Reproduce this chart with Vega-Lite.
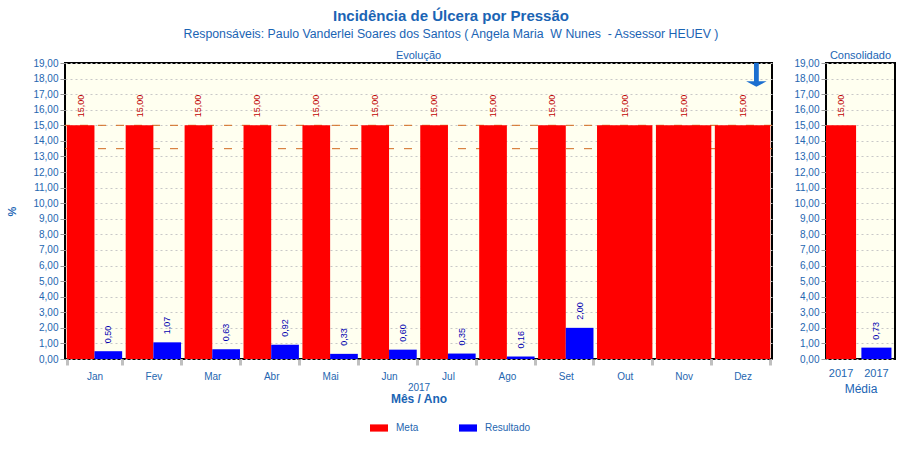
{
  "$schema": "https://vega.github.io/schema/vega-lite/v6.json",
  "padding": {"left": 5, "top": 8, "right": 5, "bottom": 5},
  "background": "white",
  "title": {
    "text": "Incidência de Úlcera por Pressão",
    "subtitle": "Responsáveis: Paulo Vanderlei Soares dos Santos ( Angela Maria\u00a0 W Nunes\u00a0 - Assessor HEUEV )",
    "anchor": "middle",
    "font": "Liberation Sans",
    "fontSize": 15,
    "fontWeight": "bold",
    "color": "#1a64b4",
    "subtitleFont": "Liberation Sans",
    "subtitleFontSize": 12.3,
    "subtitleColor": "#1a64b4",
    "subtitlePadding": 4,
    "offset": 9
  },
  "datasets": {
    "mensal": [
      {"mes": "Jan", "ano": "2017", "serie": "Meta", "valor": 15},
      {"mes": "Jan", "ano": "2017", "serie": "Resultado", "valor": 0.50},
      {"mes": "Fev", "ano": "2017", "serie": "Meta", "valor": 15},
      {"mes": "Fev", "ano": "2017", "serie": "Resultado", "valor": 1.07},
      {"mes": "Mar", "ano": "2017", "serie": "Meta", "valor": 15},
      {"mes": "Mar", "ano": "2017", "serie": "Resultado", "valor": 0.63},
      {"mes": "Abr", "ano": "2017", "serie": "Meta", "valor": 15},
      {"mes": "Abr", "ano": "2017", "serie": "Resultado", "valor": 0.92},
      {"mes": "Mai", "ano": "2017", "serie": "Meta", "valor": 15},
      {"mes": "Mai", "ano": "2017", "serie": "Resultado", "valor": 0.33},
      {"mes": "Jun", "ano": "2017", "serie": "Meta", "valor": 15},
      {"mes": "Jun", "ano": "2017", "serie": "Resultado", "valor": 0.60},
      {"mes": "Jul", "ano": "2017", "serie": "Meta", "valor": 15},
      {"mes": "Jul", "ano": "2017", "serie": "Resultado", "valor": 0.35},
      {"mes": "Ago", "ano": "2017", "serie": "Meta", "valor": 15},
      {"mes": "Ago", "ano": "2017", "serie": "Resultado", "valor": 0.16},
      {"mes": "Set", "ano": "2017", "serie": "Meta", "valor": 15},
      {"mes": "Set", "ano": "2017", "serie": "Resultado", "valor": 2.00},
      {"mes": "Out", "ano": "2017", "serie": "Meta", "valor": 15},
      {"mes": "Nov", "ano": "2017", "serie": "Meta", "valor": 15},
      {"mes": "Dez", "ano": "2017", "serie": "Meta", "valor": 15}
    ],
    "consolidado": [
      {"ano": "2017", "serie": "Meta", "valor": 15},
      {"ano": "2017", "serie": "Resultado", "valor": 0.73}
    ],
    "limites": [
      {"limite": 15},
      {"limite": 13.5}
    ]
  },
  "config": {
    "locale": {"number": {"decimal": ",", "thousands": ".", "grouping": [3], "currency": ["R$ ", ""]}},
    "font": "Liberation Sans",
    "view": {"fill": "#fffff0", "stroke": "black", "strokeWidth": 2},
    "axis": {
      "labelColor": "#2566b0",
      "titleColor": "#1a64b4",
      "labelFont": "Liberation Sans",
      "titleFont": "Liberation Sans",
      "labelFontSize": 10,
      "domain": false
    },
    "axisY": {
      "gridColor": "#c8c8c8",
      "gridDash": [2, 3],
      "tickColor": "#999999",
      "tickSize": 5,
      "labelPadding": 2,
      "labelOverlap": false,
      "tickCount": 25
    },
    "axisX": {
      "labelAngle": 0
    },
    "legend": {
      "orient": "bottom",
      "direction": "horizontal",
      "title": null,
      "symbolType": "M-1,-0.4H1V0.4H-1Z",
      "symbolSize": 324,
      "symbolStrokeWidth": 0,
      "labelFontSize": 10,
      "labelColor": "#2566b0",
      "labelFont": "Liberation Sans",
      "columnPadding": 40,
      "labelOffset": 8,
      "offset": 14,
      "layout": {"bottom": {"anchor": "middle"}}
    }
  },
  "spacing": 18,
  "hconcat": [
    {
      "width": 707,
      "height": 296,
      "title": {"text": "Evolução", "fontSize": 11, "fontWeight": "normal", "color": "#1a64b4", "offset": -3},
      "data": {"name": "mensal"},
      "layer": [
        {
          "layer": [
            {
              "data": {"name": "limites"},
              "mark": {"type": "rule", "color": "#d2691e", "strokeDash": [8, 10], "strokeWidth": 1},
              "encoding": {
                "y": {"field": "limite", "type": "quantitative", "scale": {"domain": [0, 19], "nice": false},
                  "axis": {"title": "%", "titleFontSize": 11, "titleFontWeight": "bold", "titlePadding": 15, "values": [0,1,2,3,4,5,6,7,8,9,10,11,12,13,14,15,16,17,18,19], "tickCount": 25, "labelOverlap": false, "format": ".2f", "grid": true}}
              }
            },
            {
              "transform": [{"filter": "indexof(['Out','Nov','Dez'], datum.mes) >= 0"}],
              "mark": {"type": "bar"},
              "encoding": {
                "x": {"field": "mes", "type": "nominal", "scale": {"domain": ["Jan","Fev","Mar","Abr","Mai","Jun","Jul","Ago","Set","Out","Nov","Dez"], "paddingInner": 0.06, "paddingOuter": 0.03},
                  "axis": {"title": null, "tickBand": "extent", "tickColor": "#c0c0c0", "tickWidth": 3, "tickSize": 6, "labelPadding": 6}},
                "y": {"field": "valor", "type": "quantitative", "scale": {"domain": [0, 19], "nice": false},
                  "axis": {"title": "%", "titleFontSize": 11, "titleFontWeight": "bold", "titlePadding": 15, "values": [0,1,2,3,4,5,6,7,8,9,10,11,12,13,14,15,16,17,18,19], "tickCount": 25, "labelOverlap": false, "format": ".2f", "grid": true}},
                "color": {"field": "serie", "type": "nominal", "scale": {"domain": ["Meta", "Resultado"], "range": ["#ff0000", "#0000ff"]}}
              }
            },
            {
              "transform": [{"filter": "indexof(['Out','Nov','Dez'], datum.mes) >= 0"}],
              "mark": {"type": "text", "angle": 270, "align": "left", "baseline": "middle", "dx": 8, "fontSize": 9, "color": "#c00000"},
              "encoding": {
                "x": {"field": "mes", "type": "nominal", "scale": {"domain": ["Jan","Fev","Mar","Abr","Mai","Jun","Jul","Ago","Set","Out","Nov","Dez"]}},
                "y": {"field": "valor", "type": "quantitative", "scale": {"domain": [0, 19], "nice": false}},
                "text": {"field": "valor", "type": "quantitative", "format": ".2f"}
              }
            },
            {
              "transform": [{"filter": "indexof(['Out','Nov','Dez'], datum.mes) < 0"}],
              "mark": {"type": "bar"},
              "encoding": {
                "x": {"field": "mes", "type": "nominal", "scale": {"domain": ["Jan","Fev","Mar","Abr","Mai","Jun","Jul","Ago","Set","Out","Nov","Dez"]}},
                "xOffset": {"field": "serie", "type": "nominal", "scale": {"domain": ["Meta", "Resultado"]}},
                "y": {"field": "valor", "type": "quantitative", "scale": {"domain": [0, 19], "nice": false}},
                "color": {"field": "serie", "type": "nominal", "scale": {"domain": ["Meta", "Resultado"], "range": ["#ff0000", "#0000ff"]}}
              }
            },
            {
              "transform": [{"filter": "indexof(['Out','Nov','Dez'], datum.mes) < 0"}],
              "mark": {"type": "text", "angle": 270, "align": "left", "baseline": "middle", "dx": 8, "fontSize": 9},
              "encoding": {
                "x": {"field": "mes", "type": "nominal", "scale": {"domain": ["Jan","Fev","Mar","Abr","Mai","Jun","Jul","Ago","Set","Out","Nov","Dez"]}},
                "xOffset": {"field": "serie", "type": "nominal", "scale": {"domain": ["Meta", "Resultado"]}},
                "y": {"field": "valor", "type": "quantitative", "scale": {"domain": [0, 19], "nice": false}},
                "text": {"field": "valor", "type": "quantitative", "format": ".2f"},
                "fill": {"condition": {"test": "datum.serie == 'Meta'", "value": "#c00000"}, "value": "#0000b0"}
              }
            },
            {
              "data": {"values": [{}]},
              "mark": {"type": "point", "shape": "M-0.2,-1H0.2V0.55H0.85L0,1L-0.85,0.55H-0.2Z", "size": 576, "filled": true, "color": "#1b6fd0", "opacity": 1},
              "encoding": {
                "x": {"datum": "Dez", "scale": {"domain": ["Jan","Fev","Mar","Abr","Mai","Jun","Jul","Ago","Set","Out","Nov","Dez"]}},
                "xOffset": {"datum": "Resultado"},
                "y": {"datum": 18.25}
              }
            }
          ]
        },
        {
          "mark": {"type": "text", "text": "", "opacity": 0},
          "encoding": {
            "x": {"field": "ano", "type": "nominal",
              "axis": {"orient": "bottom", "title": "Mês / Ano", "titleFontWeight": "bold", "titleFontSize": 12, "titlePadding": 1, "ticks": false, "domain": false, "offset": 19, "labelPadding": 4, "labelFontSize": 10}}
          }
        }
      ],
      "resolve": {"scale": {"x": "independent"}, "axis": {"x": "independent"}}
    },
    {
      "width": 69,
      "height": 296,
      "title": {"text": "Consolidado", "fontSize": 11, "fontWeight": "normal", "color": "#1a64b4", "offset": -3},
      "data": {"name": "consolidado"},
      "layer": [
        {
          "mark": {"type": "bar"},
          "encoding": {
            "x": {"field": "serie", "type": "nominal", "scale": {"domain": ["Meta", "Resultado"], "paddingInner": 0.15, "paddingOuter": 0.05, "align": 0},
              "axis": {"labelExpr": "'2017'", "title": "Média", "titleFontWeight": "normal", "titleFontSize": 12, "titlePadding": 5, "ticks": false, "labelFontSize": 11, "labelPadding": 8}},
            "y": {"field": "valor", "type": "quantitative", "scale": {"domain": [0, 19], "nice": false},
              "axis": {"title": null, "values": [0,1,2,3,4,5,6,7,8,9,10,11,12,13,14,15,16,17,18,19], "tickCount": 25, "labelOverlap": false, "format": ".2f", "grid": true}},
            "color": {"field": "serie", "type": "nominal", "scale": {"domain": ["Meta", "Resultado"], "range": ["#ff0000", "#0000ff"]}}
          }
        },
        {
          "mark": {"type": "text", "angle": 270, "align": "left", "baseline": "middle", "dx": 8, "fontSize": 9},
          "encoding": {
            "x": {"field": "serie", "type": "nominal", "scale": {"domain": ["Meta", "Resultado"]}},
            "y": {"field": "valor", "type": "quantitative", "scale": {"domain": [0, 19], "nice": false}},
            "text": {"field": "valor", "type": "quantitative", "format": ".2f"},
            "fill": {"condition": {"test": "datum.serie == 'Meta'", "value": "#c00000"}, "value": "#0000b0"}
          }
        }
      ]
    }
  ]
}
